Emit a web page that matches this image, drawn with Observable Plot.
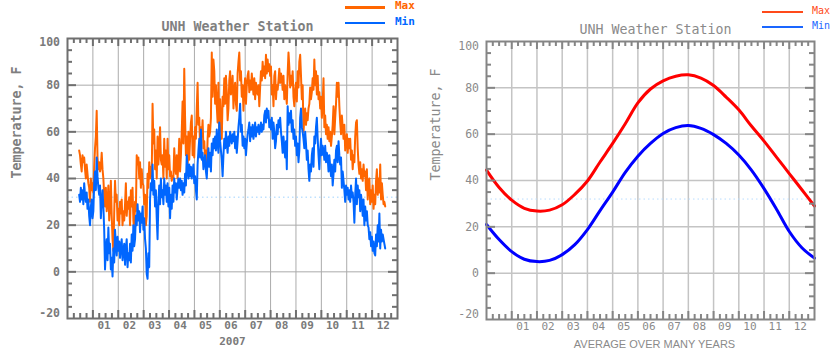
<!DOCTYPE html>
<html><head><meta charset="utf-8">
<script src="https://cdn.jsdelivr.net/npm/d3@7"></script>
<script src="https://cdn.jsdelivr.net/npm/@observablehq/plot@0.6"></script>
<style>
body{margin:0;background:#fff;width:840px;height:360px;overflow:hidden}
#wrap{display:flex;width:840px;height:360px}
.panel{position:relative;width:420px;height:360px}
.panel svg{display:block}
.sw{position:absolute}
.lt{position:absolute;font-family:"DejaVu Sans Mono",monospace;line-height:12px;white-space:nowrap}
</style></head><body>
<div id="wrap">
  <div class="panel" id="p1">
    <div class="sw" style="left:345px;top:6px;width:40px;height:2.5px;background:#ff6600"></div>
    <div class="lt" style="left:395px;top:0px;color:#ff6600;font-size:11px;font-weight:bold">Max</div>
    <div class="sw" style="left:345px;top:21.5px;width:40px;height:2.5px;background:#0066ff"></div>
    <div class="lt" style="left:395px;top:16px;color:#0066ff;font-size:11px;font-weight:bold">Min</div>
  </div>
  <div class="panel" id="p2">
    <div class="sw" style="left:342px;top:10.5px;width:41px;height:2px;background:#ff4a1a"></div>
    <div class="lt" style="left:392px;top:5px;color:#ff4a1a;font-size:10px">Max</div>
    <div class="sw" style="left:342px;top:25.5px;width:41px;height:2px;background:#1a66ff"></div>
    <div class="lt" style="left:392px;top:20px;color:#1a66ff;font-size:10px">Min</div>
  </div>
</div>
<script>
// ---- data ----
const title = "UNH Weather Station";
const yTitle = "Temperature, F";
const yearLabel = "2007";
const avgLabel = "AVERAGE OVER MANY YEARS";
const monthLabels = ["01","02","03","04","05","06","07","08","09","10","11","12"];
const yTickLabels = [-20, 0, 20, 40, 60, 80, 100];
const freezing = [32];
const seriesStart = "2006-12-15"; // first day of daily record
const axisOrigin = "2006-12-01";  // left edge of the time axis

const dailyMax = [
52,50,46,43,50,47,49,44,40,46, 42,38,36,30,40,35,38,34,45,53,
58,69,49,44,47,43,45,51,44,40, 33,28,36,26,30,37,22,28,39,24,
14,9,25,39,30,33,22,27,20,30, 25,31,20,26,22,29,38,24,30,27,
32,20,35,28,36,22,17,30,26,50, 46,49,40,47,36,44,38,37,29,33,
20,24,42,36,47,40,45,41,72,55, 61,44,52,40,58,46,53,62,48,46,
50,40,57,45,52,40,57,44,50,41, 43,39,41,40,53,45,42,50,40,47,
57,43,50,60,73,55,87,66,50,58, 44,60,48,57,64,67,50,58,49,62,
57,70,81,63,66,54,62,58,65,53, 56,48,52,44,57,63,58,60,66,94,
75,91,86,72,80,71,64,81,60,74, 62,57,75,71,83,72,84,77,65,70,
82,86,76,79,84,70,78,81,72,69, 85,90,94,82,86,75,80,69,78,83,
72,80,84,86,77,82,78,85,80,76, 83,74,81,78,76,80,71,79,86,82,
90,84,88,83,93,85,91,86,89,84, 88,76,80,71,84,86,74,80,78,82,
87,81,85,83,78,84,74,80,76,72, 85,94,88,79,84,80,86,75,71,78,
81,73,86,79,90,93,84,74,80,60, 66,70,63,68,65,70,72,79,74,77,
83,78,91,80,86,76,84,74,77,70, 75,66,72,83,62,67,59,63,57,62,
56,60,54,58,63,71,59,66,72,81, 75,81,71,64,59,67,62,57,63,52,
55,59,51,57,53,57,48,52,44,50, 47,58,64,65,53,46,42,47,40,44,
39,46,41,43,35,44,31,38,40,29, 35,30,37,27,33,29,39,44,33,40,
34,46,31,38,33,29,30,28];

const dailyMin = [
33,30,36,31,35,29,38,33,30,34, 27,31,24,20,28,31,23,26,38,43,
35,49,41,36,33,37,23,30,35,28, 18,1,10,14,5,19,8,12,1,6,
-2,10,4,18,12,7,15,9,13,6, 11,14,5,9,12,3,10,14,2,8,
5,12,4,16,9,20,11,14,24,20, 29,22,26,17,25,21,28,18,23,14,
10,-1,-3,8,2,31,38,35,46,33, 39,28,35,23,14,30,37,29,40,32,
35,29,40,33,37,30,38,28,36,23, 33,27,37,30,40,34,38,31,36,40,
36,40,35,39,33,38,34,42,37,50, 44,40,46,41,45,40,43,46,38,41,
35,31,46,52,57,49,61,48,51,44, 47,50,43,40,48,53,45,51,43,55,
50,57,53,58,52,61,55,51,64,56, 52,48,41,50,57,53,60,55,51,58,
54,60,57,55,59,56,60,53,58,51, 56,62,66,72,60,63,54,58,53,57,
50,55,59,61,64,56,62,58,63,57, 60,64,58,62,60,63,59,61,64,60,
63,61,67,69,64,70,66,69,62,65, 61,66,57,64,60,53,56,63,59,65,
62,66,60,56,51,58,53,49,56,44, 71,63,68,64,69,60,65,57,61,54,
58,50,55,47,52,66,70,62,60,57, 53,60,55,48,52,44,39,46,43,50,
53,45,58,55,62,66,57,50,44,52, 57,50,54,52,48,54,47,51,49,43,
50,45,41,46,37,42,48,43,52,54, 47,56,50,46,49,36,43,39,35,30,
37,33,36,31,35,30,37,32,34,30, 21,33,40,29,37,32,35,26,33,30,
24,31,20,28,22,26,20,19,14,17, 11,15,9,13,8,7,16,11,20,13,
25,10,18,13,16,14,12,10];

// long-term average, sampled every half month from Dec 1 (month 0) to Jan 1 (month 13)
const avgMonths = [0,0.5,1,1.5,2,2.5,3,3.5,4,4.5,5,5.5,6,6.5,7,7.5,8,8.5,9,9.5,10,10.5,11,11.5,12,12.5,13];
const avgMax = [44.5,37,31.5,28,26.8,27.2,29.5,34,39.8,48,56,64.5,73.5,79.5,83,85,85.6,84.2,81,76,70.5,63.5,57,50,43,36,29];
const avgMin = [21,14.5,9.3,6,5,5.5,8,12.3,18.8,27,35,43.5,50.5,56,60.3,62.8,63.7,62.5,59.8,56,51,44.5,36.5,27.5,18,11,6.5];

// ---- derived tables ----
const DAY = 864e5, MONTH = 30.44;
const t0 = Date.parse(axisOrigin), t1 = Date.parse(seriesStart);
const toMonth = i => ((t1 - t0) / DAY + i) / MONTH;
const maxRows = dailyMax.map((v, i) => ({m: toMonth(i), v}));
const minRows = dailyMin.map((v, i) => ({m: toMonth(i), v}));
const avgMaxRows = avgMonths.map((m, i) => ({m, v: avgMax[i]}));
const avgMinRows = avgMonths.map((m, i) => ({m, v: avgMin[i]}));

const monthGrid = monthLabels.map((d, i) => i + 1);
const quarterTicks = d3.range(1, 52).map(k => k / 4).filter(v => v % 1 !== 0);
const tempGrid = yTickLabels.filter(v => v > -20 && v < 100);
const tempMinor = d3.range(-15, 100, 5).filter(v => v % 20 !== 0);

function frameTicks(innerW, innerH, color) {
  const s = {stroke: color, strokeWidth: 2};
  return [
    Plot.ruleX(monthGrid, {...s, insetBottom: innerH - 8}),
    Plot.ruleX(quarterTicks, {...s, insetBottom: innerH - 5}),
    Plot.ruleX(monthGrid, {...s, insetTop: innerH - 8}),
    Plot.ruleX(quarterTicks, {...s, insetTop: innerH - 5}),
    Plot.ruleY(tempGrid, {...s, insetRight: innerW - 9}),
    Plot.ruleY(tempMinor, {...s, insetRight: innerW - 5}),
    Plot.ruleY(tempGrid, {...s, insetLeft: innerW - 9}),
    Plot.ruleY(tempMinor, {...s, insetLeft: innerW - 5}),
    Plot.frame({stroke: color, strokeWidth: 2})
  ];
}

function labels(c) {
  const f = {fill: c.text, fontWeight: c.weight, fontFamily: "DejaVu Sans Mono"};
  return [
    Plot.text(yTickLabels.filter(v => v > -20 && v < 100), {y: d => d, text: d => String(d), frameAnchor: "left", textAnchor: "end", dx: -7.5, fontSize: 11.5, ...f}),
    Plot.text([100], {y: d => d, text: d => String(d), frameAnchor: "left", textAnchor: "end", dx: -7.5, dy: c.topDy, fontSize: 11.5, ...f}),
    Plot.text([-20], {y: d => d, text: d => String(d), frameAnchor: "left", textAnchor: "end", dx: -7.5, dy: -5, fontSize: 11.5, ...f}),
    Plot.text(monthLabels, {x: (d, i) => i + 1.44, text: d => d, frameAnchor: "bottom", dy: 10, fontSize: 11, ...f}),
    Plot.text([title], {frameAnchor: "top", dx: c.titleDx, dy: c.titleDy, fontSize: 13.3, ...f, fill: c.title}),
    Plot.text([yTitle], {frameAnchor: "left", rotate: -90, dx: c.yTitleDx, fontSize: 13.3, ...f, fill: c.title})
  ];
}

// ---- left panel: daily 2007 ----
const p1 = Plot.plot({
  width: 420, height: 360,
  marginLeft: 67, marginRight: 23, marginTop: 38, marginBottom: 42,
  x: {domain: [0, 13], axis: null},
  y: {domain: [-20, 100], axis: null},
  style: {background: "white", fontFamily: "DejaVu Sans Mono"},
  marks: [
    Plot.ruleX(monthGrid, {stroke: "#ababab", strokeWidth: 1}),
    Plot.ruleY(tempGrid, {stroke: "#ababab", strokeWidth: 1}),
    Plot.ruleY(freezing, {stroke: "#9fd2ff", strokeWidth: 1, strokeDasharray: "1.5,3"}),
    Plot.line(maxRows, {x: "m", y: "v", stroke: "#ff6600", strokeWidth: 2}),
    Plot.line(minRows, {x: "m", y: "v", stroke: "#0066ff", strokeWidth: 2}),
    ...frameTicks(330, 280, "#6f6f6f"),
    ...labels({text: "#7a7a7a", title: "#7f7f7f", weight: "bold", topDy: 4, titleDx: 5, titleDy: -17, yTitleDx: -51}),
    Plot.text([yearLabel], {frameAnchor: "bottom", dy: 26, fontSize: 11, fontWeight: "bold", fill: "#7a7a7a", fontFamily: "DejaVu Sans Mono"})
  ]
});
document.getElementById("p1").prepend(p1);

// ---- right panel: long-term average ----
const p2 = Plot.plot({
  width: 420, height: 360,
  marginLeft: 66, marginRight: 26, marginTop: 41, marginBottom: 41,
  x: {domain: [0, 13], axis: null},
  y: {domain: [-20, 100], axis: null},
  style: {background: "white", fontFamily: "DejaVu Sans Mono"},
  marks: [
    Plot.ruleX(monthGrid, {stroke: "#c4c4c4", strokeWidth: 1.5}),
    Plot.ruleY(tempGrid, {stroke: "#c4c4c4", strokeWidth: 1.5}),
    Plot.ruleY(freezing, {stroke: "#b8dcff", strokeWidth: 1, strokeDasharray: "1.5,3"}),
    Plot.line(avgMaxRows, {x: "m", y: "v", stroke: "#ff0000", strokeWidth: 3, curve: "catmull-rom"}),
    Plot.line(avgMinRows, {x: "m", y: "v", stroke: "#0000ff", strokeWidth: 3, curve: "catmull-rom"}),
    ...frameTicks(328, 278, "#858585"),
    ...labels({text: "#8a8a8a", title: "#8a8a8a", weight: "normal", topDy: 5, titleDx: 5, titleDy: -16.5, yTitleDx: -51}),
    Plot.text([avgLabel], {frameAnchor: "bottom", dx: 4, dy: 28.5, fontSize: 11, fill: "#8a8a8a", fontFamily: "Liberation Sans, Arial, sans-serif", letterSpacing: "-0.2px"})
  ]
});
document.getElementById("p2").prepend(p2);
</script>
</body></html>
